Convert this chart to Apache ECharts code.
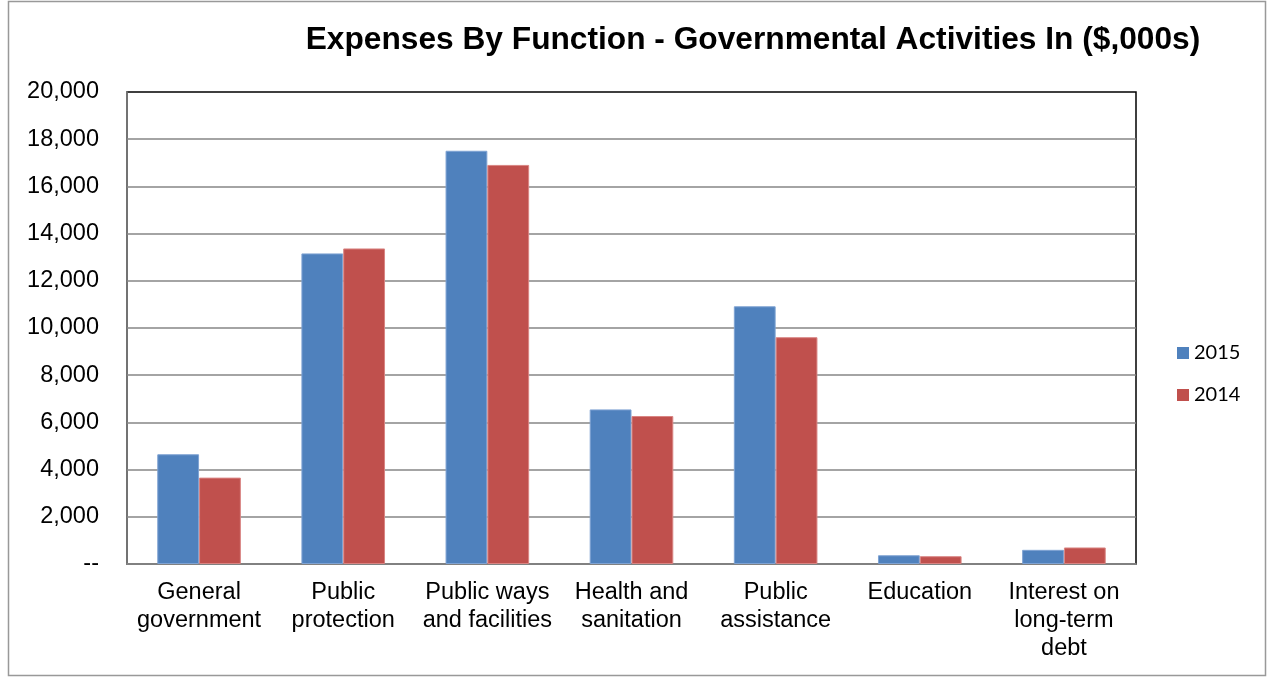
<!DOCTYPE html>
<html>
<head>
<meta charset="utf-8">
<script src="https://cdn.jsdelivr.net/npm/echarts@6/dist/echarts.min.js"></script>
<style>
html,body{margin:0;padding:0;background:#fff;}
#chart{width:1267px;height:677px;}
</style>
</head>
<body>
<div id="chart"></div>
<script>
const categories = ["General\ngovernment", "Public\nprotection", "Public ways\nand facilities", "Health and\nsanitation", "Public\nassistance", "Education", "Interest on\nlong-term\ndebt"];
const series2015 = [4650, 13160, 17510, 6550, 10920, 370, 600];
const series2014 = [3660, 13370, 16910, 6270, 9610, 330, 700];
const yTicks = { min: 0, max: 20000, interval: 2000 };

const chart = echarts.init(document.getElementById('chart'));
const font = 'Liberation Sans';
chart.setOption({
  animation: false,
  backgroundColor: '#fff',
  title: {
    text: 'Expenses By Function - Governmental Activities In ($,000s)',
    left: 748, top: 19, textAlign: 'center',
    textStyle: { fontFamily: font, fontSize: 31.7, fontWeight: 'bold', color: '#000' }
  },
  graphic: [{
    type: 'rect', shape: { x: 8.5, y: 1.5, width: 1257, height: 674 },
    style: { fill: 'none', stroke: '#999', lineWidth: 1.5 }, silent: true, z: -1
  }],
  legend: {
    orient: 'vertical', left: 1177, top: 343, padding: 0, itemWidth: 12, itemHeight: 12, itemGap: 22,
    icon: 'rect',
    itemStyle: { borderWidth: 0 },
    textStyle: { fontFamily: 'Lato', fontSize: 20, color: '#000' },
    data: ['2015', '2014']
  },
  grid: { left: 127, right: 131, top: 92, bottom: 113, show: true, borderColor: '#000', borderWidth: 1.5, backgroundColor: 'transparent' },
  xAxis: {
    type: 'category', data: categories,
    axisLine: { lineStyle: { color: '#868686', width: 1.5 } },
    axisTick: { show: false },
    axisLabel: { fontFamily: font, fontSize: 23.5, color: '#000', margin: 15, lineHeight: 28, interval: 0 }
  },
  yAxis: {
    type: 'value', min: yTicks.min, max: yTicks.max, interval: yTicks.interval,
    axisLine: { show: true, lineStyle: { color: '#868686', width: 1.5 } },
    axisTick: { show: false },
    splitLine: { showMaxLine: false, lineStyle: { color: '#868686', width: 1.5 } },
    axisLabel: {
      fontFamily: font, fontSize: 23.5, color: '#000', margin: 28,
      formatter: v => v === 0 ? '--' : v.toLocaleString('en-US')
    }
  },
  series: [
    { name: '2015', type: 'bar', data: series2015, barGap: '0%', barCategoryGap: '42%',
      itemStyle: { color: '#4F81BD', borderColor: '#7FA3D3', borderWidth: 1 } },
    { name: '2014', type: 'bar', data: series2014,
      itemStyle: { color: '#C0504D', borderColor: '#D98583', borderWidth: 1 } }
  ]
});
</script>
</body>
</html>
